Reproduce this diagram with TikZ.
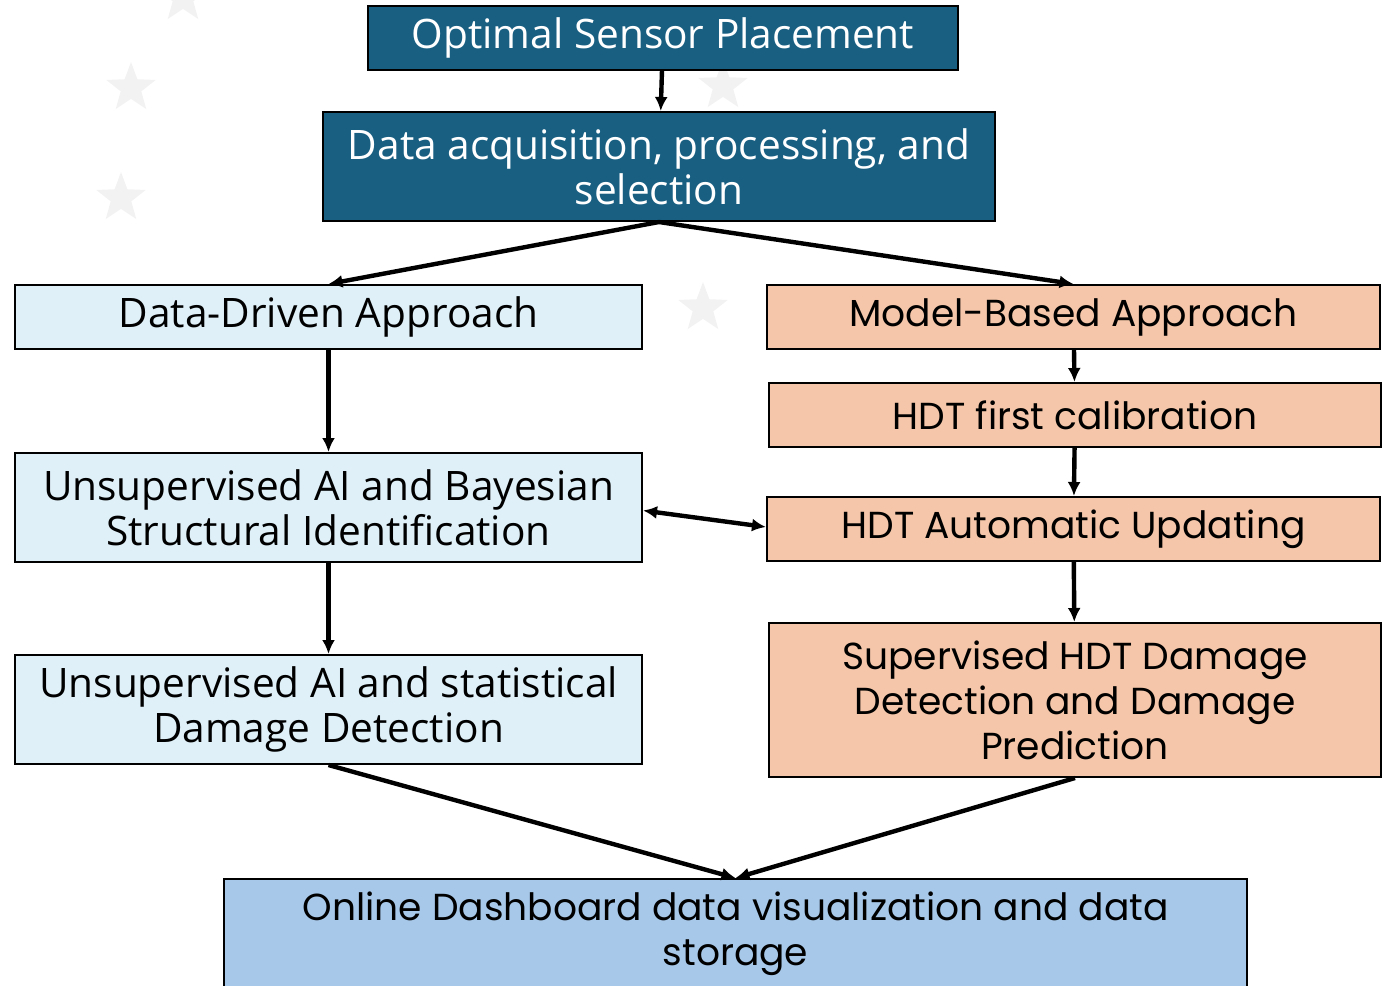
\documentclass[tikz,border=0pt]{standalone}
\usepackage{fontspec}
\setmainfont{Open Sans}
\newfontfamily\roundfont{Poppins}
\usetikzlibrary{arrows.meta, shapes.geometric}
\definecolor{my_navy}{HTML}{185F82}
\definecolor{my_ice}{HTML}{DFF0F8}
\definecolor{my_peach}{HTML}{F5C6A9}
\definecolor{my_sky}{HTML}{A7C8E9}
\definecolor{my_mark}{HTML}{F2F2F2}

\begin{document}
\begin{tikzpicture}[
    x=0.5pt, y=-0.5pt,
    box/.style={draw=black, line width=1pt, inner sep=0pt, align=center},
    topbox/.style={box, fill=my_navy, text=white, font=\fontsize{20.3}{22.5}\selectfont},
    leftbox/.style={box, fill=my_ice, font=\fontsize{20.3}{22.5}\selectfont},
    rightbox/.style={box, fill=my_peach, font=\roundfont\fontsize{18.8}{22.5}\selectfont},
    flow/.style={-{Latex[length=7pt, width=6.5pt]}, line width=2.2pt},
    mark/.style={star, star points=5, star point ratio=2.4, fill=my_mark, inner sep=0pt, minimum size=#1}
]
\useasboundingbox (0, 0) rectangle (1388, 986);

% Sterne im Hintergrund
\node[mark=26pt] at (131, 88) {};
\node[mark=26pt] at (121, 198) {};
\node[mark=26pt] at (183, -2) {};
\node[mark=26pt] at (723, 86) {};
\node[mark=26pt] at (703, 308) {};

% Kopf
\node[topbox, minimum width=295pt, minimum height=32pt] (osp) at (663, 38)
    {Optimal Sensor Placement};
\node[topbox, minimum width=336pt, minimum height=54.5pt] (daq) at (659, 166.5)
    {Data acquisition, processing, and\\selection};

% datengetrieben
\node[leftbox, minimum width=313.5pt, minimum height=32pt] (dda) at (328.5, 317)
    {Data-Driven Approach};
\node[leftbox, minimum width=313.5pt, minimum height=54.5pt] (uaib) at (328.5, 507.5)
    {Unsupervised AI and Bayesian\\Structural Identification};
\node[leftbox, minimum width=313.5pt, minimum height=54.5pt] (uais) at (328.5, 709.5)
    {Unsupervised AI and statistical\\Damage Detection};

% modellbasiert
\node[rightbox, minimum width=306.5pt, minimum height=32pt] (mba) at (1073.5, 317)
    {Model-Based Approach};
\node[rightbox, minimum width=306pt, minimum height=32pt] (hdtf) at (1075, 415)
    {HDT first calibration};
\node[rightbox, minimum width=306.5pt, minimum height=32pt] (hdtu) at (1073.5, 529)
    {HDT Automatic Updating};
\node[rightbox, minimum width=306pt, minimum height=77pt] (shdt) at (1075, 700)
    {Supervised HDT Damage\\Detection and Damage\\Prediction};

% Dashboard
\node[rightbox, fill=my_sky, minimum width=511.5pt, minimum height=55pt] (odb) at (735.5, 934)
    {Online Dashboard data visualization and data\\storage};

% Pfeile
\draw[flow] (osp) -- (daq);
\draw[flow] (daq.south) -- (dda.north);
\draw[flow] (daq.south) -- (mba.north);
\draw[flow] (dda) -- (uaib);
\draw[flow] (uaib) -- (uais);
\draw[flow] (mba) -- (hdtf);
\draw[flow] (hdtf) -- (hdtu);
\draw[flow] (hdtu) -- (shdt);
\draw[flow, {Latex[length=7pt, width=6.5pt]}-{Latex[length=7pt, width=6.5pt]}]
    ([yshift=-1.5pt]uaib.east) -- ([yshift=1pt]hdtu.west);
\draw[flow] (uais.south) -- (odb.north);
\draw[flow] (shdt.south) -- (odb.north);

\end{tikzpicture}
\end{document}
